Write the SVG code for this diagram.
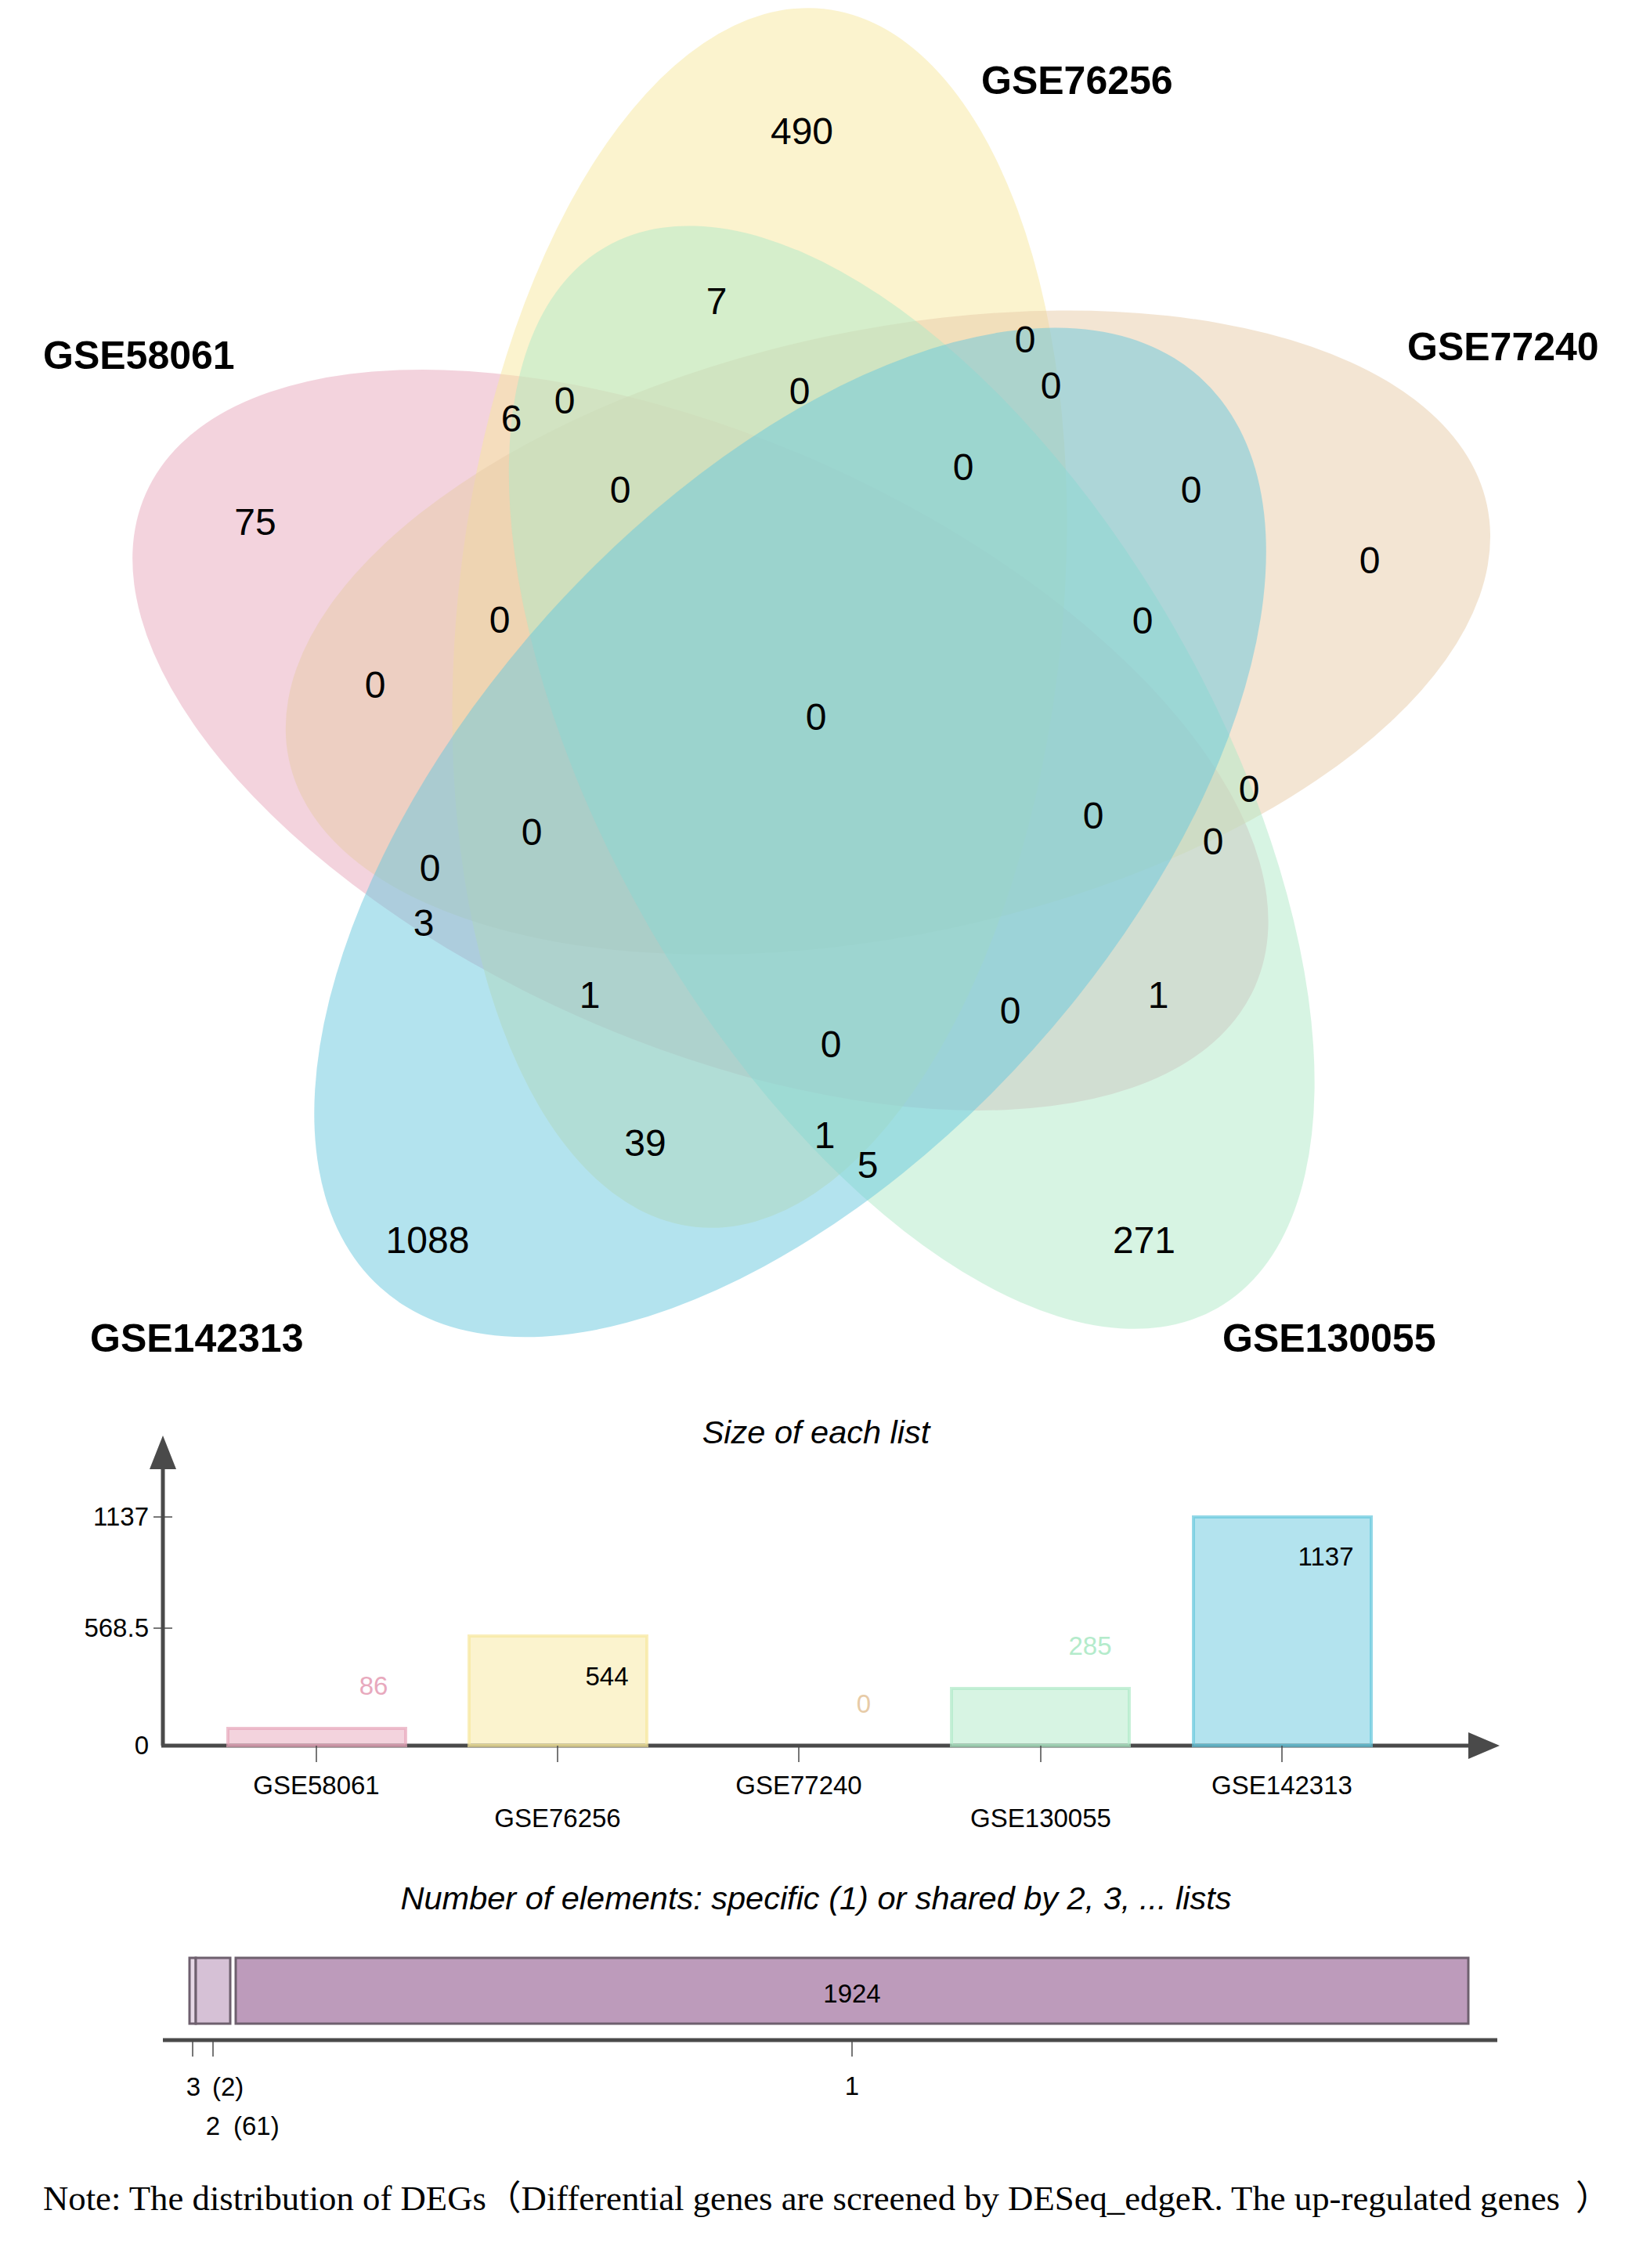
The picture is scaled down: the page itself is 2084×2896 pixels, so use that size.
<svg xmlns="http://www.w3.org/2000/svg" width="2084" height="2896" viewBox="0 0 2084 2896">
<style>
.set{fill-opacity:0.5;stroke:none}
.name{font-family:"Liberation Sans",Arial,sans-serif;font-weight:bold;font-size:50px;fill:#000}
.cnt{font-family:"Liberation Sans",Arial,sans-serif;font-size:48px;fill:#000;text-anchor:middle}
.lbl{font-family:"Liberation Sans",Arial,sans-serif;font-size:33px;fill:#000}
.ttl{font-family:"Liberation Sans",Arial,sans-serif;font-size:41.5px;font-style:italic;fill:#000;text-anchor:middle}
.axis{stroke:#4a4a4a;stroke-width:5;fill:none}
.tick{stroke:#4a4a4a;stroke-width:1.5;fill:none}
.bar{fill-opacity:0.5;stroke-width:4;stroke-opacity:0.7}
.pbar{stroke:#6e606e;stroke-width:3}
.note{font-family:"Liberation Serif","Noto Sans CJK SC",serif;font-size:44px;fill:#000}
</style>
<defs>
<ellipse id="e" cx="970" cy="783" rx="386" ry="782" transform="rotate(6 970 783)"/>
<ellipse id="eb" cx="970" cy="783" rx="416" ry="782" transform="rotate(6 970 783)"/>
<ellipse id="ep" cx="970.7" cy="776" rx="386" ry="775" transform="rotate(6 970.7 776)"/>
</defs>
<rect width="2084" height="2896" fill="#fff"/>
<g id="venn">
<g id="set-GSE58061"><use href="#ep" class="set" fill="#E7A7BB" transform="translate(8 7) rotate(288 1040 915)"/></g>
<g id="set-GSE76256"><use href="#e" class="set" fill="#F7E79D" transform="translate(0 6)"/></g>
<g id="set-GSE77240"><use href="#e" class="set" fill="#E7CBA7" transform="translate(-10 0) rotate(72 1040 915)"/></g>
<g id="set-GSE130055"><use href="#e" class="set" fill="#AFE9C7" transform="translate(-10 12) rotate(144 1040 915)"/></g>
<g id="set-GSE142313"><use href="#eb" class="set" fill="#67C7DD" transform="translate(-10 0) rotate(216 1040 915)"/></g>
<g id="set-names">
<text class="name" x="55" y="471">GSE58061</text>
<text class="name" x="1253" y="120">GSE76256</text>
<text class="name" x="1797" y="460">GSE77240</text>
<text class="name" x="1561" y="1726">GSE130055</text>
<text class="name" x="115" y="1726">GSE142313</text>
</g>
<g id="counts">
<text class="cnt" x="1024" y="184">490</text>
<text class="cnt" x="915" y="401">7</text>
<text class="cnt" x="1309" y="450">0</text>
<text class="cnt" x="1342" y="509">0</text>
<text class="cnt" x="653" y="551">6</text>
<text class="cnt" x="721" y="528">0</text>
<text class="cnt" x="1021" y="516">0</text>
<text class="cnt" x="326" y="683">75</text>
<text class="cnt" x="792" y="642">0</text>
<text class="cnt" x="1230" y="613">0</text>
<text class="cnt" x="1521" y="642">0</text>
<text class="cnt" x="1749" y="732">0</text>
<text class="cnt" x="638" y="808">0</text>
<text class="cnt" x="1459" y="809">0</text>
<text class="cnt" x="479" y="891">0</text>
<text class="cnt" x="1042" y="932">0</text>
<text class="cnt" x="1595" y="1024">0</text>
<text class="cnt" x="1396" y="1058">0</text>
<text class="cnt" x="1549" y="1091">0</text>
<text class="cnt" x="679" y="1079">0</text>
<text class="cnt" x="549" y="1125">0</text>
<text class="cnt" x="541" y="1195">3</text>
<text class="cnt" x="753" y="1287">1</text>
<text class="cnt" x="1290" y="1307">0</text>
<text class="cnt" x="1479" y="1287">1</text>
<text class="cnt" x="1061" y="1350">0</text>
<text class="cnt" x="824" y="1476">39</text>
<text class="cnt" x="1053" y="1466">1</text>
<text class="cnt" x="1108" y="1504">5</text>
<text class="cnt" x="546" y="1600">1088</text>
<text class="cnt" x="1461" y="1600">271</text>
</g>
</g>
<g id="size-chart">
<text class="ttl" x="1042" y="1843">Size of each list</text>
<line class="axis" x1="208" y1="2229" x2="208" y2="1872"/>
<polygon points="208,1833 191,1876 225,1876" fill="#4a4a4a"/>
<line class="axis" x1="206" y1="2229" x2="1878" y2="2229"/>
<polygon points="1915,2229 1875,2212 1875,2246" fill="#4a4a4a"/>
<line class="tick" x1="196" y1="1937" x2="220" y2="1937"/>
<line class="tick" x1="196" y1="2079" x2="220" y2="2079"/>
<text class="lbl" x="190" y="1948" text-anchor="end">1137</text>
<text class="lbl" x="190" y="2090" text-anchor="end">568.5</text>
<text class="lbl" x="190" y="2240" text-anchor="end">0</text>
<g id="bar-GSE58061">
<rect class="bar" x="291" y="2207" width="227" height="22" fill="#E7A7BB" stroke="#E7A7BB"/>
<line class="tick" x1="404" y1="2229" x2="404" y2="2250"/>
<text class="lbl" x="477" y="2164" text-anchor="middle" style="fill:#E8A9BD">86</text>
<text class="lbl" x="404" y="2291" text-anchor="middle">GSE58061</text>
</g>
<g id="bar-GSE76256">
<rect class="bar" x="599" y="2089" width="227" height="140" fill="#F7E79D" stroke="#F7E79D"/>
<line class="tick" x1="712" y1="2229" x2="712" y2="2250"/>
<text class="lbl" x="775" y="2152" text-anchor="middle">544</text>
<text class="lbl" x="712" y="2333" text-anchor="middle">GSE76256</text>
</g>
<g id="bar-GSE77240">
<line class="tick" x1="1020" y1="2229" x2="1020" y2="2250"/>
<text class="lbl" x="1103" y="2187" text-anchor="middle" style="fill:#E7CBA7">0</text>
<text class="lbl" x="1020" y="2291" text-anchor="middle">GSE77240</text>
</g>
<g id="bar-GSE130055">
<rect class="bar" x="1215" y="2156" width="227" height="73" fill="#AFE9C7" stroke="#AFE9C7"/>
<line class="tick" x1="1329" y1="2229" x2="1329" y2="2250"/>
<text class="lbl" x="1392" y="2113" text-anchor="middle" style="fill:#B4EBCB">285</text>
<text class="lbl" x="1329" y="2333" text-anchor="middle">GSE130055</text>
</g>
<g id="bar-GSE142313">
<rect class="bar" x="1524" y="1937" width="227" height="292" fill="#67C7DD" stroke="#67C7DD"/>
<line class="tick" x1="1637" y1="2229" x2="1637" y2="2250"/>
<text class="lbl" x="1693" y="1999" text-anchor="middle">1137</text>
<text class="lbl" x="1637" y="2291" text-anchor="middle">GSE142313</text>
</g>
</g>
<g id="shared-chart">
<text class="ttl" x="1042" y="2438">Number of elements: specific (1) or shared by 2, 3, ... lists</text>
<g id="seg-3"><rect class="pbar" x="242" y="2500" width="8" height="84" fill="#E6D8E6"/></g>
<g id="seg-2"><rect class="pbar" x="250" y="2500" width="44" height="84" fill="#D6C1D6"/></g>
<g id="seg-1"><rect class="pbar" x="301" y="2500" width="1574" height="84" fill="#BD9BBB"/>
<text class="lbl" x="1088" y="2557" text-anchor="middle">1924</text></g>
<line class="axis" x1="208" y1="2605" x2="1912" y2="2605"/>
<line class="tick" x1="246" y1="2605" x2="246" y2="2626"/>
<line class="tick" x1="272" y1="2605" x2="272" y2="2626"/>
<line class="tick" x1="1088" y1="2605" x2="1088" y2="2626"/>
<text class="lbl" x="247" y="2676" text-anchor="middle">3</text>
<text class="lbl" x="271" y="2676">(2)</text>
<text class="lbl" x="272" y="2726" text-anchor="middle">2</text>
<text class="lbl" x="298" y="2726">(61)</text>
<text class="lbl" x="1088" y="2675" text-anchor="middle">1</text>
</g>
<g id="note">
<text class="note" x="55" y="2822" textLength="1937" lengthAdjust="spacingAndGlyphs">Note: The distribution of DEGs（Differential genes are screened by DESeq_edgeR. The up-regulated genes</text>
<text class="note" x="2012" y="2822">）</text>
</g>
</svg>
